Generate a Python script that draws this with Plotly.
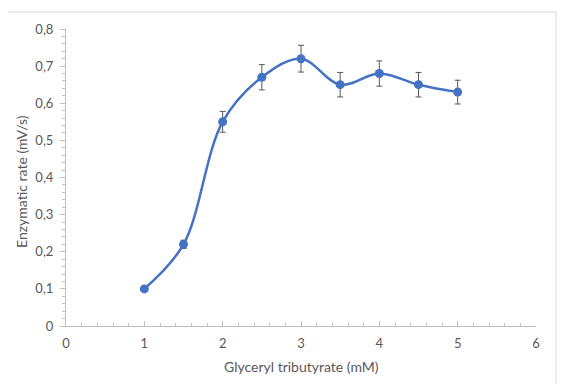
import plotly.graph_objects as go

conc = [1, 1.5, 2, 2.5, 3, 3.5, 4, 4.5, 5]
rate = [0.10, 0.22, 0.55, 0.67, 0.72, 0.65, 0.68, 0.65, 0.63]
err = [0.005, 0.011, 0.028, 0.034, 0.036, 0.033, 0.034, 0.033, 0.032]
x_title = "Glyceryl tributyrate (mM)"
y_title = "Enzymatic rate (mV/s)"

blue = "#4472C4"
grey = "#595959"
axis_col = "#BFBFBF"

fig = go.Figure()
fig.add_trace(go.Scatter(
    x=conc, y=rate, mode="lines+markers",
    line=dict(color=blue, width=2.5, shape="spline", smoothing=1.0),
    marker=dict(color=blue, size=9),
    error_y=dict(type="data", array=err, visible=True, color=grey, thickness=1, width=3),
    showlegend=False,
))

# the page body has an 8px margin, so the figure is sized/placed to compensate
fig.update_layout(
    width=570, height=376,
    margin=dict(l=58, r=42, t=21, b=58, autoexpand=False),
    paper_bgcolor="white", plot_bgcolor="white",
    separators=", ",
    font=dict(family="Lato, Carlito, Liberation Sans, sans-serif", color=grey, size=13),
    shapes=[dict(type="rect", xref="paper", yref="paper",
                 x0=-0.3, x1=1.0426, y0=-0.35, y1=1.0572,
                 line=dict(color="#D9D9D9", width=1), layer="below")],
    annotations=[
        dict(text=x_title, xref="paper", yref="paper", x=0.5, y=-0.137,
             xanchor="center", yanchor="middle", showarrow=False,
             font=dict(size=14, color=grey)),
        dict(text=y_title, xref="paper", yref="paper", x=-0.096, y=0.488,
             xanchor="center", yanchor="middle", showarrow=False, textangle=-90,
             font=dict(size=14, color=grey)),
    ],
)
fig.update_xaxes(
    range=[0, 6], dtick=1, tick0=0, showgrid=False, zeroline=False, automargin=False,
    showline=True, linecolor=axis_col, linewidth=1,
    ticks="inside", ticklen=5, tickcolor=axis_col, ticklabelstandoff=5,
    minor=dict(dtick=0.2, ticks="inside", ticklen=3, tickcolor=axis_col, showgrid=False),
    tickfont=dict(size=13, color=grey),
)
fig.update_yaxes(
    range=[0, 0.8], dtick=0.1, tick0=0, showgrid=False, zeroline=False, automargin=False,
    showline=True, linecolor=axis_col, linewidth=1,
    ticks="outside", ticklen=5, tickcolor=axis_col, ticklabelstandoff=4,
    minor=dict(dtick=0.02, ticks="outside", ticklen=3, tickcolor=axis_col, showgrid=False),
    tickfont=dict(size=13, color=grey),
)

fig.write_html("out.html")
